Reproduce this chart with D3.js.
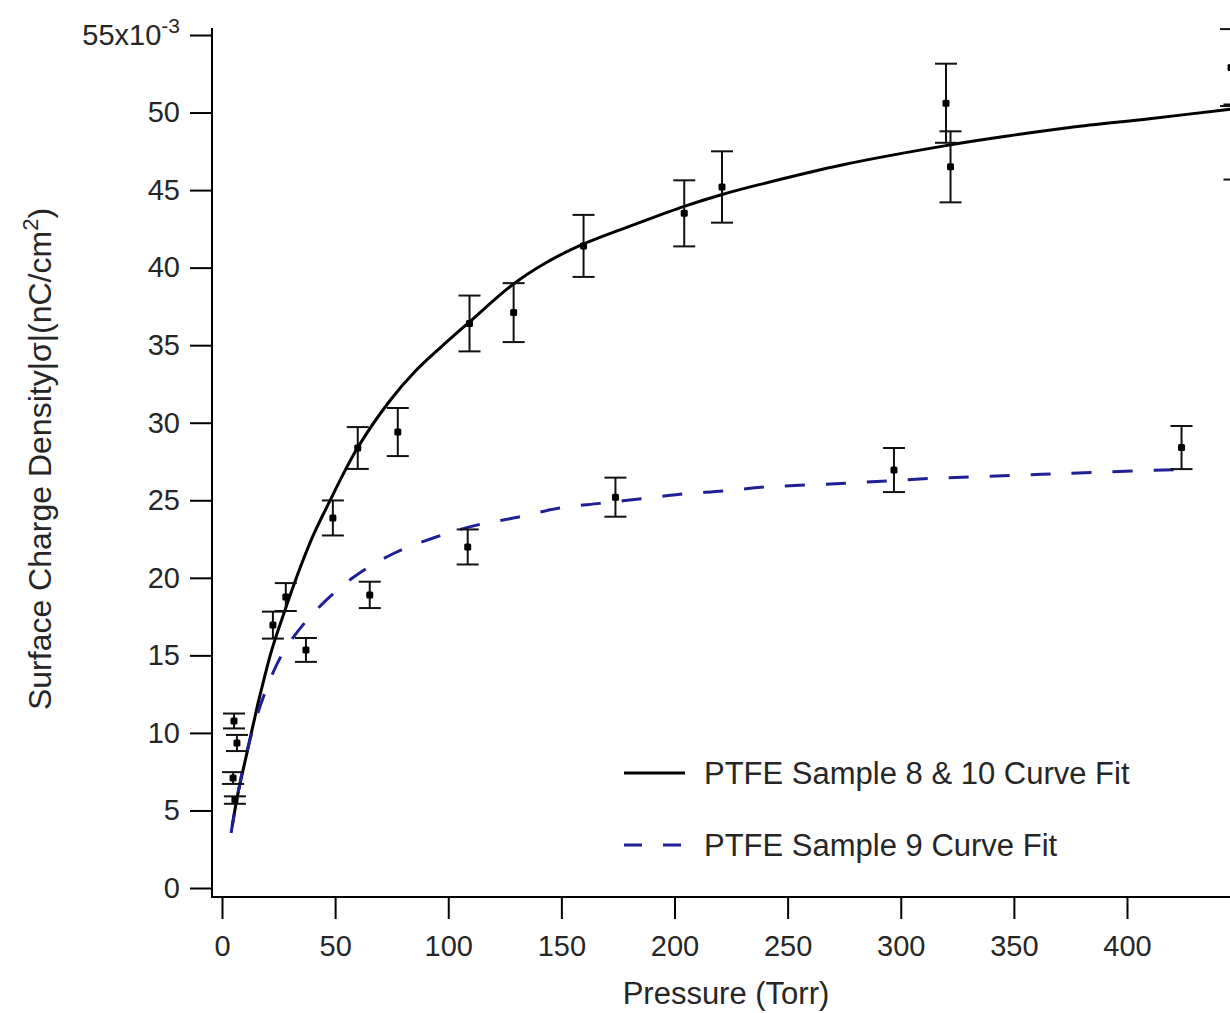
<!DOCTYPE html>
<html>
<head>
<meta charset="utf-8">
<script src="https://cdn.jsdelivr.net/npm/d3@7"></script>
<style>
body { margin: 0; background: #fff; }
text { font-family: "Liberation Sans", Arial, sans-serif; fill: #262626; }
</style>
</head>
<body>
<script>
// measured points, pressure in Torr, sigma in 1e-3 nC/cm^2
var pressure810 = [5.3, 6.6, 4.9, 5.7, 22.5, 28.2, 49, 60, 77.7, 109.4, 128.9, 159.8, 204.3, 221, 320, 322, 446, 447.5];
var sigma810 = [10.77, 9.35, 7.09, 5.67, 16.95, 18.76, 23.86, 28.37, 29.4, 36.4, 37.1, 41.4, 43.5, 45.2, 50.6, 46.5, 52.9, 48.1];
var err810 = [0.48, 0.52, 0.38, 0.24, 0.87, 0.9, 1.13, 1.35, 1.55, 1.8, 1.9, 2.0, 2.13, 2.3, 2.55, 2.29, 2.48, 2.42];

var pressure9 = [37.1, 65.3, 108.6, 173.9, 297, 424.1];
var sigma9 = [15.35, 18.9, 21.99, 25.2, 26.95, 28.4];
var err9 = [0.77, 0.85, 1.13, 1.26, 1.42, 1.39];

// curve fits
var fit810X = [4.5, 7.06, 11.0, 15.9, 18.1, 22.1, 27.8, 34.4, 40.5, 46.8, 59.6, 74.1, 85.3, 96.2, 109.4, 128.4, 143, 159.3, 184.5, 204.3, 220.7, 237.4, 275, 321.3, 348, 375.5, 410, 444.8, 452];
var fit810Y = [4.0, 6.1, 8.7, 11.9, 13.2, 15.4, 17.9, 20.6, 22.8, 24.7, 28.3, 31.4, 33.3, 34.8, 36.5, 38.9, 40.3, 41.5, 42.9, 43.95, 44.7, 45.35, 46.65, 47.9, 48.5, 49.05, 49.6, 50.2, 50.3];

var fit9X = [4.0, 8.8, 13.2, 19.0, 26.9, 40.2, 57.8, 76.3, 94.0, 112.5, 130.6, 149.2, 166.8, 185.3, 203.4, 222.0, 239.6, 276.3, 312.4, 349.1, 385.3, 425.9];
var fit9Y = [3.55, 7.4, 10.0, 12.6, 15.15, 17.7, 20.0, 21.6, 22.6, 23.4, 23.9, 24.5, 24.8, 25.1, 25.4, 25.6, 25.85, 26.1, 26.4, 26.6, 26.8, 27.0];

var xTicks = [0, 50, 100, 150, 200, 250, 300, 350, 400];
var yTicks = [0, 5, 10, 15, 20, 25, 30, 35, 40, 45, 50, 55];

var legendLabels = ["PTFE Sample 8 & 10 Curve Fit", "PTFE Sample 9 Curve Fit"];

var blue = "#1f1f96";

var svg = d3.select("body").append("svg")
    .attr("width", 1230)
    .attr("height", 1013);

var x = d3.scaleLinear()
    .domain([0, 450])
    .range([222, 222 + 450 * 2.2625]);

var y = d3.scaleLinear()
    .domain([0, 55])
    .range([888, 35]);

// y axis
var yAxis = svg.append("g")
    .attr("transform", "translate(212,0)")
    .call(d3.axisLeft(y).tickValues(yTicks).tickSize(22).tickPadding(10)
      .tickFormat(function(d) { return d === 55 ? "" : d; }));
yAxis.select(".domain").remove();
yAxis.selectAll("line").attr("stroke", "#000").attr("stroke-width", 2);
yAxis.selectAll("text").attr("font-size", 29).attr("font-family", null).attr("fill", null);

var topLabel = yAxis.selectAll(".tick").filter(function(d) { return d === 55; }).select("text");
topLabel.append("tspan").text("55x10");
topLabel.append("tspan").attr("font-size", 21).attr("dy", "-0.55em").text("-3");

// x axis
var xAxis = svg.append("g")
    .attr("transform", "translate(0,897)")
    .call(d3.axisBottom(x).tickValues(xTicks).tickSize(22).tickPadding(16));
xAxis.select(".domain").remove();
xAxis.selectAll("line").attr("stroke", "#000").attr("stroke-width", 2);
xAxis.selectAll("text").attr("font-size", 29).attr("font-family", null).attr("fill", null);

svg.append("line")
    .attr("x1", 212).attr("x2", 212).attr("y1", 28).attr("y2", 898)
    .attr("stroke", "#000").attr("stroke-width", 2);
svg.append("line")
    .attr("x1", 211).attr("x2", 1230).attr("y1", 897).attr("y2", 897)
    .attr("stroke", "#000").attr("stroke-width", 2);

// axis titles
svg.append("text")
    .attr("x", 726).attr("y", 1004)
    .attr("text-anchor", "middle")
    .attr("font-size", 31)
    .text("Pressure (Torr)");

var yTitle = svg.append("text")
    .attr("transform", "translate(51,459) rotate(-90)")
    .attr("text-anchor", "middle")
    .attr("font-size", 32);
yTitle.append("tspan").text("Surface Charge Density|σ|(nC/cm");
yTitle.append("tspan").attr("font-size", 22).attr("dy", "-0.6em").text("2");
yTitle.append("tspan").attr("dy", "0.4em").text(")");

// fits
var line = d3.line()
    .x(function(d) { return x(d[0]); })
    .y(function(d) { return y(d[1]); })
    .curve(d3.curveCatmullRom.alpha(0.5));

svg.append("path")
    .datum(d3.zip(fit810X, fit810Y))
    .attr("d", line)
    .attr("fill", "none")
    .attr("stroke", "#000")
    .attr("stroke-width", 3);

svg.append("path")
    .datum(d3.zip(fit9X, fit9Y))
    .attr("d", line)
    .attr("fill", "none")
    .attr("stroke", blue)
    .attr("stroke-width", 3)
    .attr("stroke-dasharray", "20,21");

// data points with error bars
var points = d3.zip(pressure810, sigma810, err810).concat(d3.zip(pressure9, sigma9, err9));

var pt = svg.append("g").selectAll("g")
    .data(points)
  .enter().append("g");

pt.append("line")
    .attr("x1", function(d) { return x(d[0]); })
    .attr("x2", function(d) { return x(d[0]); })
    .attr("y1", function(d) { return y(d[1] - d[2]); })
    .attr("y2", function(d) { return y(d[1] + d[2]); })
    .attr("stroke", "#111").attr("stroke-width", 2);

[-1, 1].forEach(function(s) {
  pt.append("line")
      .attr("x1", function(d) { return x(d[0]) - 11; })
      .attr("x2", function(d) { return x(d[0]) + 11; })
      .attr("y1", function(d) { return y(d[1] + s * d[2]); })
      .attr("y2", function(d) { return y(d[1] + s * d[2]); })
      .attr("stroke", "#111").attr("stroke-width", 2);
});

pt.append("rect")
    .attr("x", function(d) { return x(d[0]) - 3.5; })
    .attr("y", function(d) { return y(d[1]) - 3.5; })
    .attr("width", 7).attr("height", 7)
    .attr("rx", 1.5)
    .attr("fill", "#000");

// legend
var legend = svg.append("g");
legend.append("line")
    .attr("x1", 624).attr("x2", 685).attr("y1", 773).attr("y2", 773)
    .attr("stroke", "#000").attr("stroke-width", 3);
legend.append("line")
    .attr("x1", 624).attr("x2", 685).attr("y1", 845).attr("y2", 845)
    .attr("stroke", blue).attr("stroke-width", 3)
    .attr("stroke-dasharray", "18,21");
legend.selectAll("text")
    .data(legendLabels)
  .enter().append("text")
    .attr("x", 704)
    .attr("y", function(d, i) { return 784 + i * 72; })
    .attr("font-size", 31)
    .text(function(d) { return d; });
</script>
</body>
</html>
